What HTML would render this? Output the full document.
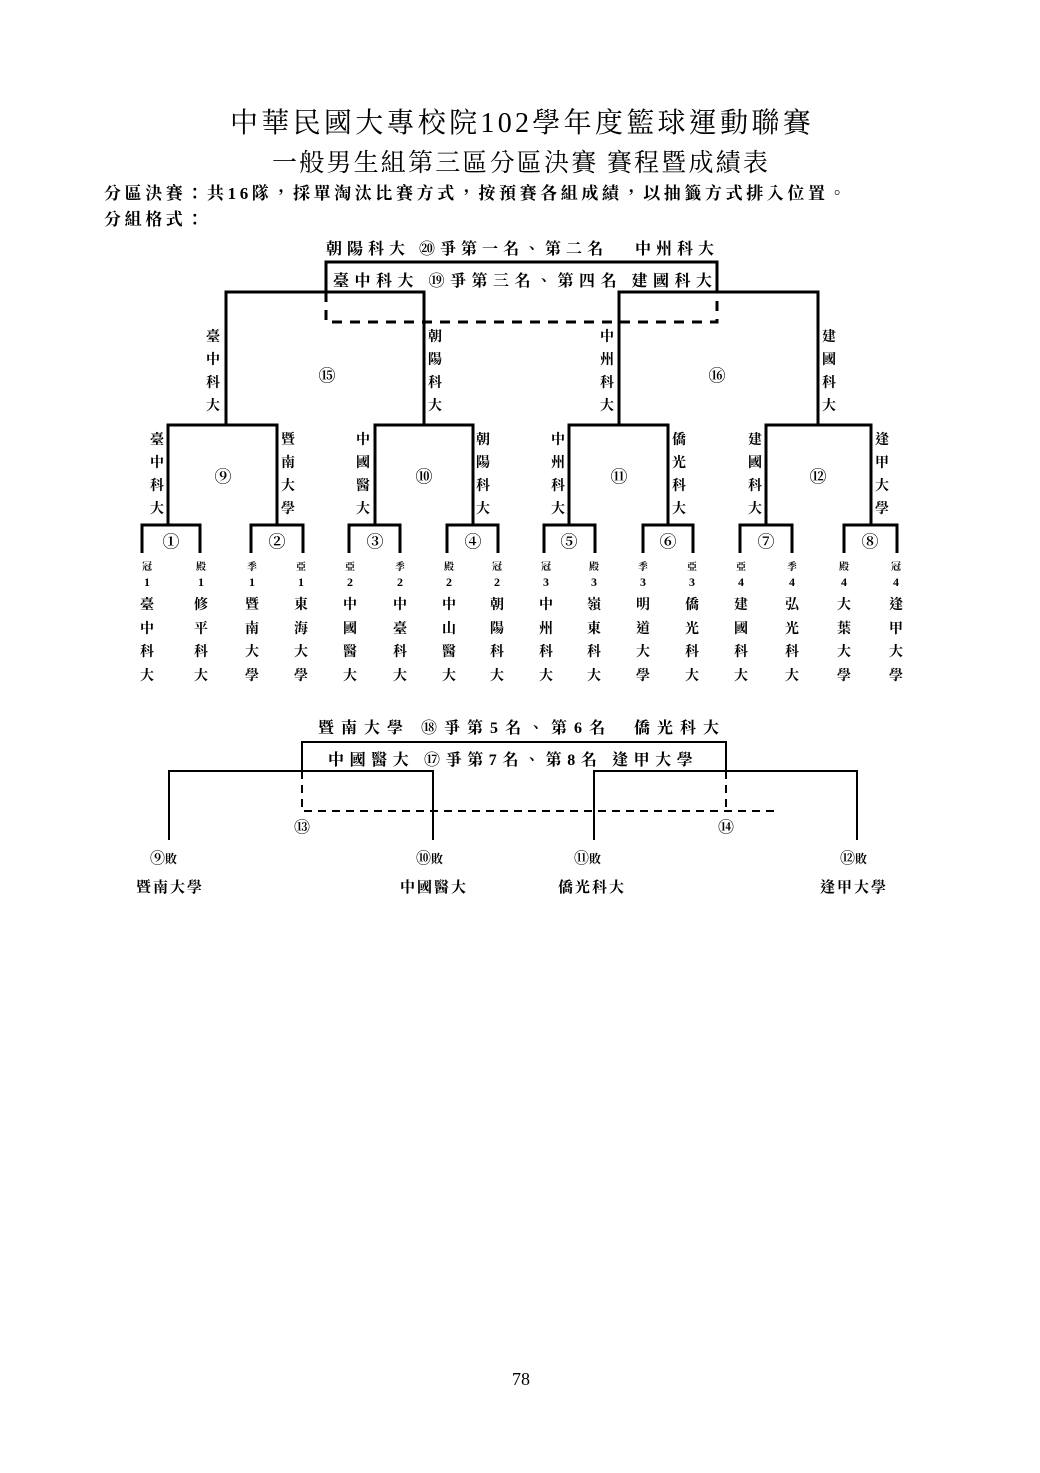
<!DOCTYPE html>
<html><head><meta charset="utf-8"><style>
body{margin:0;background:#fff;}
#p{position:relative;width:1040px;height:1473px;overflow:hidden;font-family:"Liberation Serif","Noto Serif CJK TC","Noto Serif CJK SC",serif;color:#000;}
.a{position:absolute;white-space:nowrap;}
.c{position:absolute;transform:translateX(-50%);white-space:nowrap;}
.v{position:absolute;width:20px;margin-left:-10px;text-align:center;font-weight:bold;font-size:14px;line-height:23px;white-space:normal;word-break:break-all;}
.n{position:absolute;width:20px;margin-left:-10px;text-align:center;font-weight:bold;font-size:14px;line-height:23.5px;word-break:break-all;}
.s{position:absolute;transform:translateX(-50%);font-weight:bold;font-size:10px;}
.d{position:absolute;transform:translateX(-50%);font-weight:bold;font-size:12px;}
.b{font-weight:bold;}
.cn{position:absolute;transform:translate(-50%,-50%);font-size:17px;font-weight:bold;}
</style></head><body><div id="p">
<div class="a" style="left:230px;top:101px;font-size:28px;letter-spacing:3.3px;">中華民國大專校院102學年度籃球運動聯賽</div>
<div class="a" style="left:272px;top:143px;font-size:25px;letter-spacing:2.2px;">一般男生組第三區分區決賽 賽程暨成績表</div>
<div class="a b" style="left:104px;top:179px;font-size:17px;letter-spacing:3.6px;">分區決賽：共16隊，採單淘汰比賽方式，按預賽各組成績，以抽籤方式排入位置。</div>
<div class="a b" style="left:104px;top:205px;font-size:17px;letter-spacing:3.6px;">分組格式：</div>

<svg class="a" style="left:0;top:0" width="1040" height="1473">
<g stroke="#000" stroke-width="3" fill="none">
<polyline points="326,292 326,262 717,262 717,292"/>
<polyline points="226,425 226,292 424,292 424,425"/>
<polyline points="619,425 619,292 818,292 818,425"/>
<polyline points="168,525 168,425 277,425 277,525"/>
<polyline points="375,525 375,425 473,425 473,525"/>
<polyline points="569,525 569,425 668,425 668,525"/>
<polyline points="766,525 766,425 871,425 871,525"/>
<polyline points="142,553 142,525 200,525 200,553"/>
<polyline points="251,553 251,525 303,525 303,553"/>
<polyline points="349,553 349,525 400,525 400,553"/>
<polyline points="447,553 447,525 498,525 498,553"/>
<polyline points="544,553 544,525 595,525 595,553"/>
<polyline points="643,553 643,525 693,525 693,553"/>
<polyline points="740,553 740,525 792,525 792,553"/>
<polyline points="844,553 844,525 897,525 897,553"/>
<path d="M326,292V322H717V292" stroke-dasharray="10,8"/>
</g>
<g stroke="#000" stroke-width="2" fill="none">
<polyline points="302,771 302,742 726,742 726,771"/>
<polyline points="169,840 169,771 433,771 433,840"/>
<polyline points="594,840 594,771 857,771 857,840"/>
<path d="M302,771V811H777M726,771V811" stroke-dasharray="8,6"/>
</g>
</svg>

<div class="a b" style="left:326px;top:236px;font-size:16px;letter-spacing:5px;">朝陽科大 ⑳爭第一名、第二名&nbsp;&nbsp;&nbsp;中州科大</div>
<div class="a b" style="left:333px;top:268px;font-size:16px;letter-spacing:5.5px;">臺中科大 ⑲爭第三名、第四名 建國科大</div>

<div class="cn" style="left:327px;top:374px;">⑮</div>
<div class="cn" style="left:717px;top:374px;">⑯</div>
<div class="cn" style="left:223px;top:475px;">⑨</div>
<div class="cn" style="left:424px;top:475px;">⑩</div>
<div class="cn" style="left:619px;top:475px;">⑪</div>
<div class="cn" style="left:818px;top:475px;">⑫</div>
<div class="cn" style="left:171px;top:540px;">①</div>
<div class="cn" style="left:277px;top:540px;">②</div>
<div class="cn" style="left:375px;top:540px;">③</div>
<div class="cn" style="left:473px;top:540px;">④</div>
<div class="cn" style="left:569px;top:540px;">⑤</div>
<div class="cn" style="left:668px;top:540px;">⑥</div>
<div class="cn" style="left:766px;top:540px;">⑦</div>
<div class="cn" style="left:870px;top:540px;">⑧</div>

<div class="v" style="left:213px;top:326px;">臺中科大</div>
<div class="v" style="left:435px;top:326px;">朝陽科大</div>
<div class="v" style="left:607px;top:326px;">中州科大</div>
<div class="v" style="left:829px;top:326px;">建國科大</div>
<div class="v" style="left:157px;top:429px;">臺中科大</div>
<div class="v" style="left:288px;top:429px;">暨南大學</div>
<div class="v" style="left:363px;top:429px;">中國醫大</div>
<div class="v" style="left:483px;top:429px;">朝陽科大</div>
<div class="v" style="left:558px;top:429px;">中州科大</div>
<div class="v" style="left:679px;top:429px;">僑光科大</div>
<div class="v" style="left:755px;top:429px;">建國科大</div>
<div class="v" style="left:882px;top:429px;">逢甲大學</div>

<div class="s" style="left:147px;top:558px;">冠</div><div class="d" style="left:147px;top:575px;">1</div><div class="n" style="left:147px;top:594px;">臺中科大</div>
<div class="s" style="left:201px;top:558px;">殿</div><div class="d" style="left:201px;top:575px;">1</div><div class="n" style="left:201px;top:594px;">修平科大</div>
<div class="s" style="left:252px;top:558px;">季</div><div class="d" style="left:252px;top:575px;">1</div><div class="n" style="left:252px;top:594px;">暨南大學</div>
<div class="s" style="left:301px;top:558px;">亞</div><div class="d" style="left:301px;top:575px;">1</div><div class="n" style="left:301px;top:594px;">東海大學</div>
<div class="s" style="left:350px;top:558px;">亞</div><div class="d" style="left:350px;top:575px;">2</div><div class="n" style="left:350px;top:594px;">中國醫大</div>
<div class="s" style="left:400px;top:558px;">季</div><div class="d" style="left:400px;top:575px;">2</div><div class="n" style="left:400px;top:594px;">中臺科大</div>
<div class="s" style="left:449px;top:558px;">殿</div><div class="d" style="left:449px;top:575px;">2</div><div class="n" style="left:449px;top:594px;">中山醫大</div>
<div class="s" style="left:497px;top:558px;">冠</div><div class="d" style="left:497px;top:575px;">2</div><div class="n" style="left:497px;top:594px;">朝陽科大</div>
<div class="s" style="left:546px;top:558px;">冠</div><div class="d" style="left:546px;top:575px;">3</div><div class="n" style="left:546px;top:594px;">中州科大</div>
<div class="s" style="left:594px;top:558px;">殿</div><div class="d" style="left:594px;top:575px;">3</div><div class="n" style="left:594px;top:594px;">嶺東科大</div>
<div class="s" style="left:643px;top:558px;">季</div><div class="d" style="left:643px;top:575px;">3</div><div class="n" style="left:643px;top:594px;">明道大學</div>
<div class="s" style="left:692px;top:558px;">亞</div><div class="d" style="left:692px;top:575px;">3</div><div class="n" style="left:692px;top:594px;">僑光科大</div>
<div class="s" style="left:741px;top:558px;">亞</div><div class="d" style="left:741px;top:575px;">4</div><div class="n" style="left:741px;top:594px;">建國科大</div>
<div class="s" style="left:792px;top:558px;">季</div><div class="d" style="left:792px;top:575px;">4</div><div class="n" style="left:792px;top:594px;">弘光科大</div>
<div class="s" style="left:844px;top:558px;">殿</div><div class="d" style="left:844px;top:575px;">4</div><div class="n" style="left:844px;top:594px;">大葉大學</div>
<div class="s" style="left:896px;top:558px;">冠</div><div class="d" style="left:896px;top:575px;">4</div><div class="n" style="left:896px;top:594px;">逢甲大學</div>

<div class="a b" style="left:318px;top:715px;font-size:16px;letter-spacing:7px;">暨南大學 ⑱爭第5名、第6名&nbsp;&nbsp;僑光科大</div>
<div class="a b" style="left:328px;top:747px;font-size:16px;letter-spacing:5.6px;">中國醫大 ⑰爭第7名、第8名 逢甲大學</div>
<div class="cn" style="left:302px;top:826px;font-size:16px;">⑬</div>
<div class="cn" style="left:726px;top:826px;font-size:16px;">⑭</div>
<div class="a b" style="left:150px;top:847px;font-size:12px;"><span style="font-size:15px">⑨</span>敗</div>
<div class="a b" style="left:416px;top:847px;font-size:12px;"><span style="font-size:15px">⑩</span>敗</div>
<div class="a b" style="left:574px;top:847px;font-size:12px;"><span style="font-size:15px">⑪</span>敗</div>
<div class="a b" style="left:840px;top:847px;font-size:12px;"><span style="font-size:15px">⑫</span>敗</div>
<div class="a b" style="left:136px;top:876px;font-size:15px;letter-spacing:2px;">暨南大學</div>
<div class="a b" style="left:400px;top:876px;font-size:15px;letter-spacing:2px;">中國醫大</div>
<div class="a b" style="left:558px;top:876px;font-size:15px;letter-spacing:2px;">僑光科大</div>
<div class="a b" style="left:820px;top:876px;font-size:15px;letter-spacing:2px;">逢甲大學</div>

<div class="c" style="left:521px;top:1369px;font-size:18px;">78</div>
</div></body></html>
